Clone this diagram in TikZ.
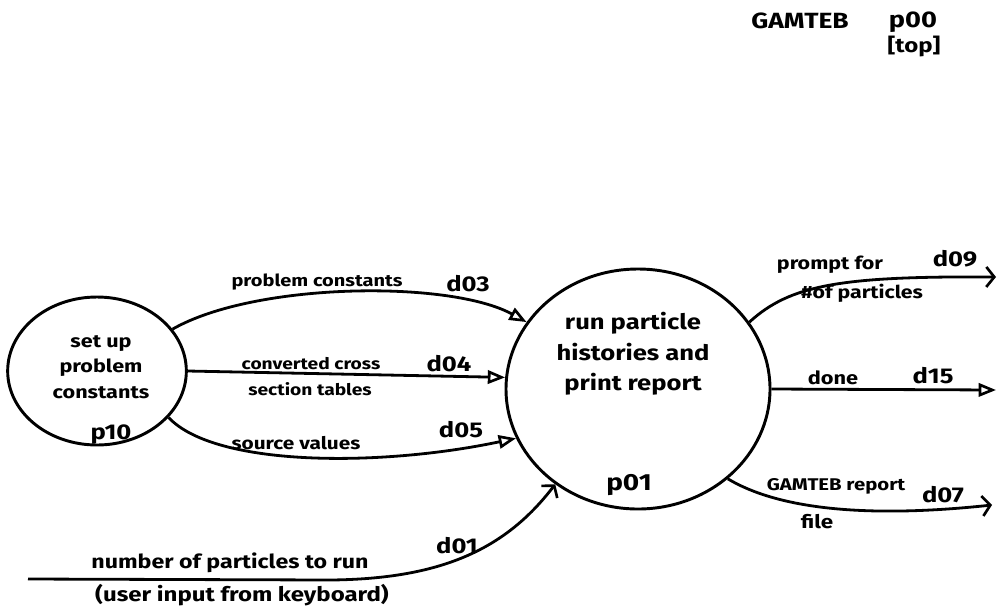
\documentclass[tikz,border=0pt]{standalone}
\usepackage{fontspec}
\setmainfont{Fira Sans}[FakeStretch=1.2]
\usetikzlibrary{arrows.meta,shapes.geometric}
\newcommand{\handfont}[1]{\bfseries\fontsize{#1}{#1}\selectfont}
\tikzset{
  process/.style={draw, ellipse, line width=2.2pt, inner sep=0pt},
  flow/.style={line width=2.1pt},
  tri/.style={-{Triangle[open,length=13pt,width=10pt,line width=2pt]}},
  barb/.style={-{Straight Barb[length=6pt,width=15pt,line width=2pt]}},
  lbl/.style={font=\handfont{12.5}, inner sep=0pt},
  dlbl/.style={font=\handfont{16}, inner sep=0pt},
  ptext/.style={align=center, inner sep=0pt},
  pid/.style={font=\handfont{17}, inner sep=0pt},
}
\begin{document}
\begin{tikzpicture}[x=0.75pt, y=-0.75pt]
\useasboundingbox (0,0) rectangle (998,615);

% header
\node[pid, font=\handfont{16.5}] (title) at (800,21) {GAMTEB};
\node[pid] (pzero) at (913,22) {p00};
\node[lbl, font=\handfont{15}] (toptag) at (914,46) {[top]};

% processes
\node[process, minimum width=134pt, minimum height=111pt] (p10) at (97,371) {};
\node[process, minimum width=198pt, minimum height=180pt] (p01) at (638,389) {};

\node[ptext, font=\bfseries\fontsize{13.5}{19}\selectfont] (p10txt) at (101,367) {set up\\problem\\constants};
\node[pid, font=\handfont{16}] (p10id) at (111,434) {p10};
\node[ptext, font=\bfseries\fontsize{16}{23}\selectfont] (p01txt) at (633,354) {run particle\\histories and\\print report};
\node[pid, font=\handfont{17.5}] (p01id) at (629,485) {p01};

% free ends of external flows
\coordinate (in01) at (28,579);
\coordinate (bend01) at (330,580);
\coordinate (out09) at (996,277);
\coordinate (out15) at (996,390);
\coordinate (out07) at (992,505);

% flows p10 -> p01
\draw[flow, tri] (p10.29) .. controls (255,282) and (450,280) .. (p01.149);
\draw[flow, tri] (p10.east) -- (p01.175);
\draw[flow, tri] (p10.-33) .. controls (215,467) and (380,467) .. (p01.202);

% keyboard input
\draw[flow, barb] (in01) -- (bend01) .. controls (440,579) and (505,550) .. (p01.229);

% outputs of p01
\draw[flow, barb] (p01.31) .. controls (790,285) and (840,276) .. (out09);
\draw[flow, tri] (p01.east) -- (out15);
\draw[flow, barb] (p01.-45) .. controls (780,510) and (870,518) .. (out07);

% flow labels
\node[lbl] (l03) at (317,282) {problem constants};
\node[dlbl] (d03) at (468,284) {d03};
\node[lbl, font=\handfont{12}] (l04a) at (311,364) {converted cross};
\node[dlbl] (d04) at (449,364) {d04};
\node[lbl, font=\handfont{12}] (l04b) at (310,389) {section tables};
\node[lbl, font=\handfont{13}] (l05) at (296,443) {source values};
\node[dlbl] (d05) at (461,430) {d05};
\node[lbl, font=\handfont{14.5}] (l01a) at (230,563) {number of particles to run};
\node[dlbl] (d01) at (457,546) {d01};
\node[lbl, font=\handfont{15}] (l01b) at (242,595) {(user input from keyboard)};
\node[lbl, font=\handfont{13.4}] (l09a) at (830,265) {prompt for};
\node[dlbl] (d09) at (955,259) {d09};
\node[lbl, font=\handfont{13.3}] (l09b) at (862,293) {\#of particles};
\node[lbl, font=\handfont{13.6}] (l15) at (833,378) {done};
\node[dlbl] (d15) at (933,376) {d15};
\node[lbl, font=\handfont{12.7}] (l07a) at (836,486) {GAMTEB report};
\node[dlbl] (d07) at (943,495) {d07};
\node[lbl, font=\handfont{14}] (l07b) at (817,522) {file};
\end{tikzpicture}
\end{document}
